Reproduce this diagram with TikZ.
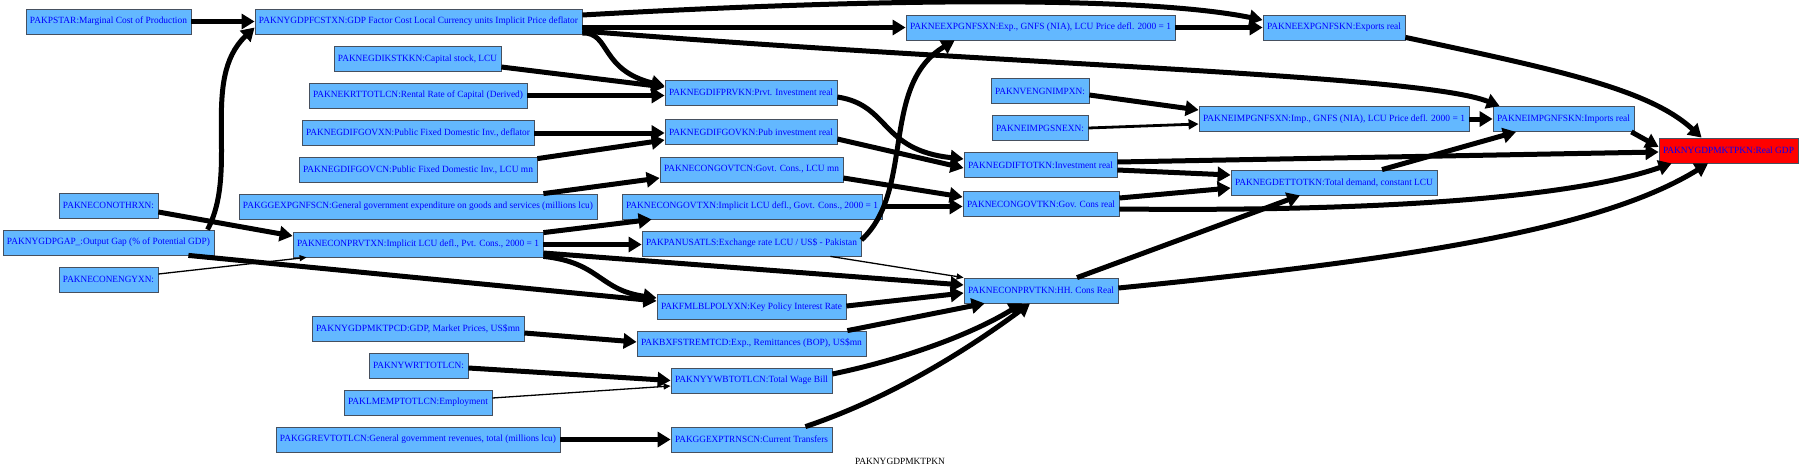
\documentclass[tikz,border=0pt]{standalone}
\usepackage{fontspec}
\setmainfont{Liberation Serif}
\usetikzlibrary{arrows.meta}
\definecolor{nodefill}{RGB}{99,184,255}
\definecolor{nodeline}{RGB}{70,80,95}
\newcommand\bx[6]{\node[box,#6,minimum width=#4pt] (#1) at (#2,#3) {\resizebox{\dimexpr#4pt-8pt\relax}{\height}{#5}};}
\tikzset{
  box/.style={draw=nodeline, fill=nodefill, text=blue, inner sep=0pt, minimum height=25pt,
    font=\fontsize{9.5}{11}\selectfont, line width=0.8pt},
  e/.style={line width=5pt, -{Triangle[length=13pt,width=15pt]}},
  emid/.style={line width=2.8pt, -{Triangle[length=10pt,width=10pt]}},
  ethin/.style={line width=1.3pt, -{Triangle[length=7pt,width=6pt]}}
}
\begin{document}
\begin{tikzpicture}[x=1pt,y=-1pt]
\useasboundingbox (0,0) rectangle (1800,472);
% column 1
\bx{pstar}{108.5}{21.5}{165}{PAKPSTAR:Marginal Cost of Production}{}
\bx{othr}{108.5}{205.5}{99}{PAKNECONOTHRXN:}{}
\bx{gap}{108.5}{242.5}{211}{PAKNYGDPGAP\_:Output Gap (\% of Potential GDP)}{}
\bx{engy}{108.5}{279.5}{99}{PAKNECONENGYXN:}{}
% column 2
\bx{fcstxn}{418.5}{21.5}{327}{PAKNYGDPFCSTXN:GDP Factor Cost Local Currency units Implicit Price deflator}{}
\bx{kstkkn}{417.5}{59}{167}{PAKNEGDIKSTKKN:Capital stock, LCU}{}
\bx{krt}{418}{95.5}{218}{PAKNEKRTTOTLCN:Rental Rate of Capital (Derived)}{}
\bx{govxn}{418}{133}{232}{PAKNEGDIFGOVXN:Public Fixed Domestic Inv., deflator}{}
\bx{govcn}{418}{170}{238}{PAKNEGDIFGOVCN:Public Fixed Domestic Inv., LCU mn}{}
\bx{ggexp}{418}{206.5}{358}{PAKGGEXPGNFSCN:General government expenditure on goods and services (millions lcu)}{}
\bx{prvtxn}{418}{244.5}{250}{PAKNECONPRVTXN:Implicit LCU defl., Pvt. Cons., 2000 = 1}{}
\bx{mktpcd}{418}{329}{212}{PAKNYGDPMKTPCD:GDP, Market Prices, US\$mn}{}
\bx{wrt}{418.5}{365.5}{99}{PAKNYWRTTOTLCN:}{}
\bx{lmemp}{418}{402.5}{148}{PAKLMEMPTOTLCN:Employment}{}
\bx{ggrev}{418}{439.5}{284}{PAKGGREVTOTLCN:General government revenues, total (millions lcu)}{}
% column 3
\bx{prvkn}{751}{92.5}{172}{PAKNEGDIFPRVKN:Prvt. Investment real}{}
\bx{govkn}{751}{132}{172}{PAKNEGDIFGOVKN:Pub investment real}{}
\bx{govtcn}{751.5}{169.5}{183}{PAKNECONGOVTCN:Govt. Cons., LCU mn}{}
\bx{govtxn}{752}{206.5}{260}{PAKNECONGOVTXN:Implicit LCU defl., Govt. Cons., 2000 = 1}{}
\bx{usatls}{751.5}{243.5}{219}{PAKPANUSATLS:Exchange rate LCU / US\$ - Pakistan}{}
\bx{poly}{751.5}{307}{189}{PAKFMLBLPOLYXN:Key Policy Interest Rate}{}
\bx{remt}{751.5}{343.5}{229}{PAKBXFSTREMTCD:Exp., Remittances (BOP), US\$mn}{}
\bx{wb}{751.5}{380.5}{161}{PAKNYYWBTOTLCN:Total Wage Bill}{}
\bx{trns}{751.5}{439.5}{161}{PAKGGEXPTRNSCN:Current Transfers}{}
% column 4
\bx{expxn}{1040.5}{27.5}{269}{PAKNEEXPGNFSXN:Exp., GNFS (NIA), LCU Price defl. 2000 = 1}{}
\bx{nveng}{1040}{91}{98}{PAKNVENGNIMPXN:}{}
\bx{impgsn}{1040}{128}{96}{PAKNEIMPGSNEXN:}{}
\bx{totkn}{1040.5}{165}{153}{PAKNEGDIFTOTKN:Investment real}{}
\bx{govtkn}{1041}{204}{156}{PAKNECONGOVTKN:Gov. Cons real}{}
\bx{prvtkn}{1041}{290.5}{154}{PAKNECONPRVTKN:HH. Cons Real}{}
% column 5
\bx{expkn}{1334}{27.5}{142}{PAKNEEXPGNFSKN:Exports real}{}
\bx{impxn}{1334}{119}{270}{PAKNEIMPGNFSXN:Imp., GNFS (NIA), LCU Price defl. 2000 = 1}{}
\bx{dettot}{1334}{182.5}{206}{PAKNEGDETTOTKN:Total demand, constant LCU}{}
% column 6
\bx{impkn}{1563.5}{119}{141}{PAKNEIMPGNFSKN:Imports real}{}
\bx{gdp}{1728.5}{150.5}{139}{PAKNYGDPMKTPKN:Real GDP}{fill=red}
% graph label
\node[font=\fontsize{9.5}{11}\selectfont, inner sep=0pt] (title) at (900,461) {\resizebox{90pt}{\height}{PAKNYGDPMKTPKN}};

% edges
\draw[e] (pstar.east) -- (fcstxn.west);
\draw[e] ([shift={(99,0)}]gap.north) .. controls +(32,-60) and +(-55,52) .. ([shift={(0,6)}]fcstxn.west);
\draw[e] (fcstxn.east |- expxn.west) -- (expxn.west);
\draw[e] ([shift={(0,-6.5)}]fcstxn.east) .. controls +(318,-18) and +(-113,-23) .. ([shift={(0,-7.5)}]expkn.west);
\draw[e] ([shift={(0,9.5)}]fcstxn.east) .. controls +(418,34) and +(-80,-32) .. ([shift={(7,0)}]impkn.north west);
\draw[e] ([shift={(0,11.5)}]fcstxn.east) .. controls +(28,-1) and +(-65,-16) .. ([shift={(0,-6.5)}]prvkn.west);
\draw[e] ([shift={(0,8)}]kstkkn.east) -- ([shift={(0,-5.5)}]prvkn.west);
\draw[e] (krt.east) -- (prvkn.west |- krt.east);
\draw[e] (govxn.east) -- (govkn.west |- govxn.east);
\draw[e] ([shift={(0,1.5)}]govcn.north east) -- ([shift={(0,8)}]govkn.west);
\draw[e] (expxn.east) -- (expkn.west);
\draw[e] ([shift={(0,4)}]nveng.east) -- ([shift={(0,-9)}]impxn.west);
\draw[emid] (impgsn.east) -- ([shift={(0,5)}]impxn.west);
\draw[e] (impxn.east) -- (impkn.west);
\draw[e] ([shift={(-3,0)}]impkn.south east) -- ([shift={(0,-3.5)}]gdp.west);
\draw[e] ([shift={(0,-3)}]expkn.south east) .. controls +(155,33) and +(-52,-48) .. ([shift={(43,0)}]gdp.north west);
\draw[e] ([shift={(0,4.5)}]prvkn.east) .. controls +(53,8) and +(-84,-9) .. ([shift={(0,-6)}]totkn.west);
\draw[e] ([shift={(0,7)}]govkn.east) -- ([shift={(0,3)}]totkn.west);
\draw[e] ([shift={(0,-3)}]totkn.east) -- ([shift={(0,1.5)}]gdp.west);
\draw[e] ([shift={(0,5)}]totkn.east) -- ([shift={(0,-7.5)}]dettot.west);
\draw[e] ([shift={(48,0)}]dettot.north) -- ([shift={(-47.5,0)}]impkn.south);
\draw[e] ([shift={(0,8.5)}]govtcn.east) -- ([shift={(0,-7)}]govtkn.west);
\draw[e] (govtxn.east) -- (govtkn.west |- govtxn.east);
\draw[e] ([shift={(0,-6)}]govtkn.east) -- ([shift={(0,5.5)}]dettot.west);
\draw[e] ([shift={(0,5)}]govtkn.east) .. controls +(281,3) and +(-92,32) .. ([shift={(13,0)}]gdp.south west);
\draw[e] ([shift={(36,0)}]prvtkn.north) -- ([shift={(-34,0)}]dettot.south);
\draw[e] ([shift={(0,-2.5)}]prvtkn.east) .. controls +(282,-28) and +(-108,67) .. ([shift={(-20.5,0)}]gdp.south);
\draw[e] ([shift={(-54,0)}]ggexp.north east) -- ([shift={(0,8.5)}]govtcn.west);
\draw[e] ([shift={(0,6.5)}]othr.east) -- ([shift={(0,-8.5)}]prvtxn.west);
\draw[ethin] ([shift={(0,-5.5)}]engy.east) -- ([shift={(14,0)}]prvtxn.south west);
\draw[e] ([shift={(0,1)}]prvtxn.north east) -- ([shift={(30,0)}]govtxn.south west);
\draw[e] (prvtxn.east) -- (usatls.west |- prvtxn.east);
\draw[e] ([shift={(0,8.5)}]prvtxn.east) -- ([shift={(0,-5.5)}]prvtkn.west);
\draw[e] ([shift={(0,-1)}]prvtxn.south east) .. controls +(57,6) and +(-58,-8) .. ([shift={(0,-9)}]poly.west);
\draw[e] ([shift={(-26,0)}]gap.south east) -- ([shift={(0,-6)}]poly.west);
\draw[e] ([shift={(0,-3.5)}]usatls.east) .. controls +(54,-50) and +(-75,45) .. ([shift={(49,0)}]expxn.south west);
\draw[ethin] ([shift={(-31,0)}]usatls.south east) -- (prvtkn.north west);
\draw[e] ([shift={(0,-1)}]poly.east) -- ([shift={(0,2.5)}]prvtkn.west);
\draw[e] ([shift={(0,4)}]mktpcd.east) -- ([shift={(0,-1.5)}]remt.west);
\draw[e] ([shift={(-19,0)}]remt.north east) -- ([shift={(21,0)}]prvtkn.south west);
\draw[e] ([shift={(0,2.5)}]wrt.east) -- (wb.west);
\draw[ethin] ([shift={(0,-4.5)}]lmemp.east) -- ([shift={(0,5.5)}]wb.west);
\draw[e] ([shift={(0,-6.5)}]wb.east) .. controls +(68,-14) and +(-52,32) .. ([shift={(-19,0)}]prvtkn.south);
\draw[e] (ggrev.east) -- (trns.west);
\draw[e] ([shift={(-27,0)}]trns.north east) .. controls +(95,-32) and +(-50,37) .. ([shift={(-11,0)}]prvtkn.south);
\end{tikzpicture}
\end{document}
